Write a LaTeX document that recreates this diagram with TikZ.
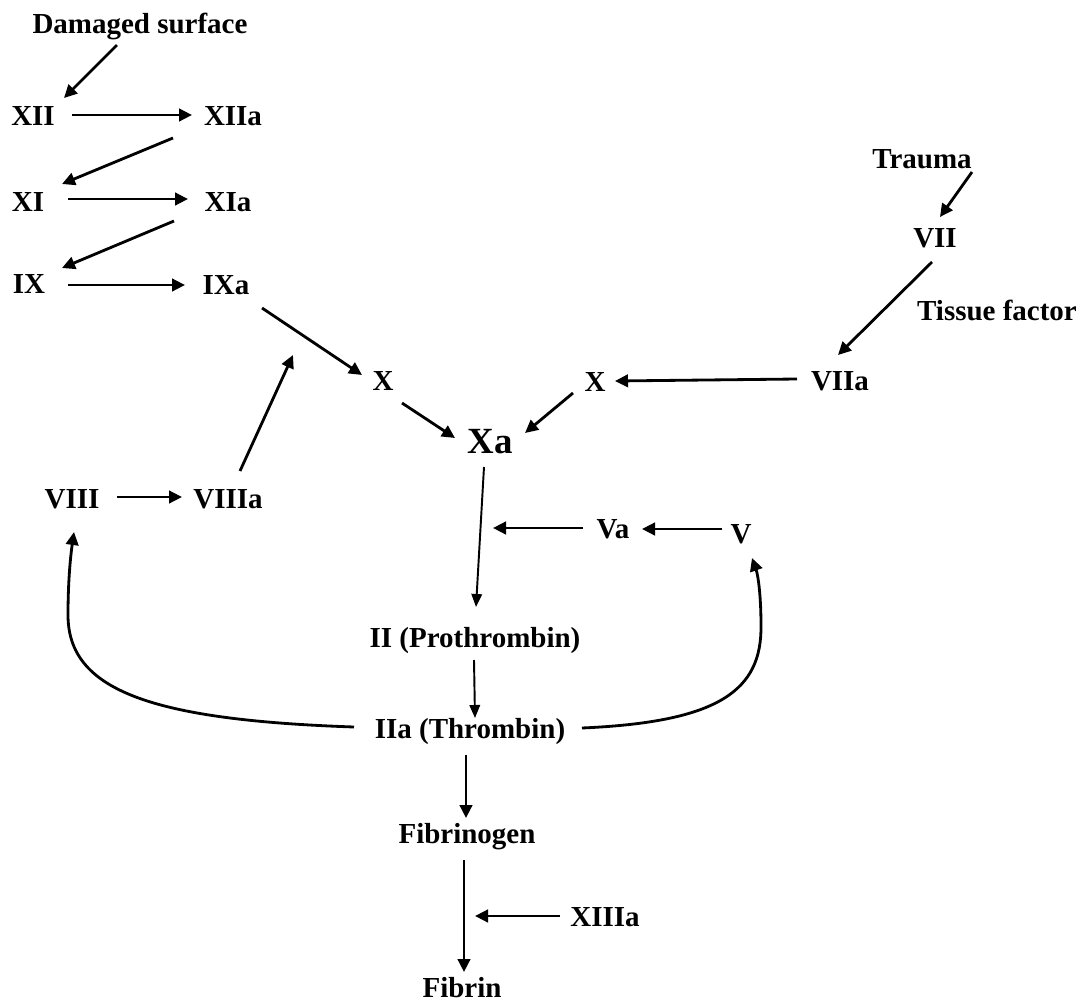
\documentclass[tikz,border=0pt]{standalone}
\usepackage{fontspec}
\setmainfont{Liberation Serif}
\usetikzlibrary{arrows.meta}
\begin{document}
\begin{tikzpicture}[x=0.02cm,y=-0.02cm,
  lbl/.style={font=\fontsize{16.5}{18}\selectfont\bfseries, inner sep=0pt, anchor=base},
  big/.style={font=\fontsize{21}{24}\selectfont\bfseries, inner sep=0pt, anchor=base},
  arr/.style={line width=1.6pt, -{Triangle[length=0.26cm,width=0.25cm]}},
  thinarr/.style={line width=1.1pt, -{Triangle[length=0.26cm,width=0.21cm]}}]
\useasboundingbox[fill=white] (0,0) rectangle (1083,1001);
% nodes
\node[lbl] (DS) at (140,33) {Damaged surface};
\node[lbl] (XII) at (33,125) {XII};
\node[lbl] (XIIa) at (233,125) {XIIa};
\node[lbl] (XI) at (28,211) {XI};
\node[lbl] (XIa) at (228,211) {XIa};
\node[lbl] (IX) at (29,293) {IX};
\node[lbl] (IXa) at (226,294) {IXa};
\node[lbl] (XL) at (383,390) {X};
\node[big] (Xa) at (490,453) {Xa};
\node[lbl] (XR) at (595,391) {X};
\node[lbl] (VIIa) at (840,390) {VIIa};
\node[lbl] (VII) at (935,247) {VII};
\node[lbl] (Trauma) at (922,168) {Trauma};
\node[lbl] (TF) at (997,320) {Tissue factor};
\node[lbl] (VIII) at (72,508) {VIII};
\node[lbl] (VIIIa) at (228,508) {VIIIa};
\node[lbl] (Va) at (613,538) {Va};
\node[lbl] (V) at (741,543) {V};
\node[lbl] (II) at (475,647) {II (Prothrombin)};
\node[lbl] (IIa) at (470,738) {IIa (Thrombin)};
\node[lbl] (Fg) at (467,843) {Fibrinogen};
\node[lbl] (XIIIa) at (605,926) {XIIIa};
\node[lbl] (Fibrin) at (462,997) {Fibrin};
\coordinate (VIIIend) at (293,355);
\coordinate (Vaend) at (493,528);
\coordinate (XIIIend) at (475,916);
% arrows
\draw[arr] ([shift={(-23,12)}]DS.base) -- ([shift={(31,-27)}]XII.base);
\draw[arr] ([shift={(39,-10)}]XII.base) -- ([shift={(-41,-10)}]XIIa.base);
\draw[arr] ([shift={(-60,13)}]XIIa.base) -- ([shift={(34,-27)}]XI.base);
\draw[arr] ([shift={(40,-12)}]XI.base) -- ([shift={(-40,-12)}]XIa.base);
\draw[arr] ([shift={(-54,10)}]XIa.base) -- ([shift={(33,-25)}]IX.base);
\draw[arr] ([shift={(39,-8)}]IX.base) -- ([shift={(-41,-9)}]IXa.base);
\draw[arr] ([shift={(36,14)}]IXa.base) -- ([shift={(-21,-15)}]XL.base);
\draw[arr] ([shift={(19,13)}]XL.base) -- ([shift={(-35,-15)}]Xa.base);
\draw[arr] ([shift={(-22,2)}]XR.base) -- ([shift={(35,-20)}]Xa.base);
\draw[arr] ([shift={(-43,-11)}]VIIa.base) -- ([shift={(20,-10)}]XR.base);
\draw[arr] ([shift={(50,4)}]Trauma.base) -- ([shift={(5,-30)}]VII.base);
\draw[arr] ([shift={(-3,15)}]VII.base) -- ([shift={(-2,-35)}]VIIa.base);
\draw[arr] ([shift={(45,-11)}]VIII.base) -- ([shift={(-46,-11)}]VIIIa.base);
\draw[arr] ([shift={(12,-37)}]VIIIa.base) -- (VIIIend);
\draw[thinarr] ([shift={(-6,14)}]Xa.base) -- ([shift={(1,-40)}]II.base);
\draw[arr] ([shift={(-19,-14)}]V.base) -- ([shift={(29,-9)}]Va.base);
\draw[arr] ([shift={(-30,-10)}]Va.base) -- (Vaend);
\draw[thinarr] ([shift={(-1,13)}]II.base) -- ([shift={(5,-20)}]IIa.base);
\draw[arr] ([shift={(-116,-11)}]IIa.base) .. controls (150,720) and (68,690) .. (68,615)
   .. controls (68,585) and (70,560) .. ([shift={(2,24)}]VIII.base);
\draw[arr] ([shift={(112,-10)}]IIa.base) .. controls (720,722) and (762,690) .. (761,625)
   .. controls (761,595) and (758,575) .. ([shift={(11,15)}]V.base);
\draw[arr] ([shift={(-4,17)}]IIa.base) -- ([shift={(-1,-25)}]Fg.base);
\draw[arr] ([shift={(-3,17)}]Fg.base) -- ([shift={(2,-25)}]Fibrin.base);
\draw[arr] ([shift={(-45,-10)}]XIIIa.base) -- (XIIIend);
\end{tikzpicture}
\end{document}
